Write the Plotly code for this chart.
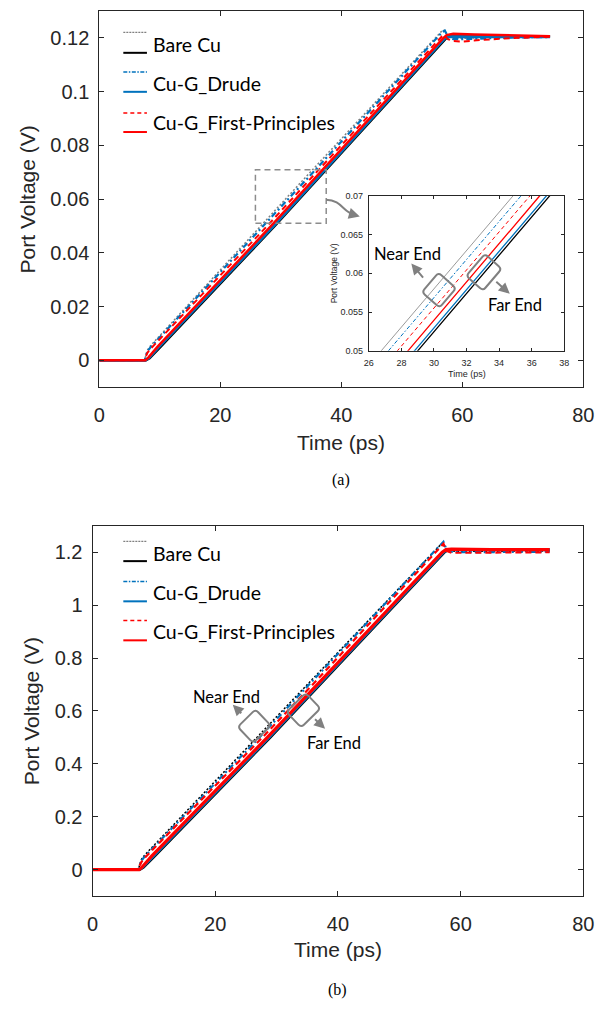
import math
import plotly.graph_objects as go

W, H = 607, 1009

# ---------------- data (a): time (ps) / port voltage (V) ----------------
t_a_bare_near = [0, 7.5, 7.7, 8.0, 8.5, 26.76, 34.86, 56.6, 57.0, 57.5, 58.3, 60.0, 65.0, 74.5]
v_a_bare_near = [0, 0, 0.0020, 0.0040, 0.0055, 0.050, 0.070, 0.1225, 0.1228, 0.1212, 0.1200, 0.1198, 0.1202, 0.1205]

t_a_bare_far = [0, 7.7, 8.3, 9.0, 10.0, 29.0, 37.1, 57.3, 57.9, 74.5]
v_a_bare_far = [0, 0, 0.0008, 0.0025, 0.0047, 0.050, 0.070, 0.1198, 0.1205, 0.1205]

t_a_drude_near = [0, 7.5, 7.7, 8.0, 8.6, 27.2, 35.35, 56.7, 57.1, 57.6, 58.5, 60.0, 63.0, 68.0, 74.5]
v_a_drude_near = [0, 0, 0.0018, 0.0035, 0.0052, 0.050, 0.070, 0.1222, 0.1227, 0.1205, 0.1195, 0.1195, 0.1198, 0.1201, 0.1203]

t_a_drude_far = [0, 7.6, 8.2, 8.9, 9.8, 28.8, 36.9, 57.1, 57.7, 74.5]
v_a_drude_far = [0, 0, 0.0009, 0.0027, 0.0048, 0.050, 0.070, 0.1198, 0.1204, 0.1204]

t_a_fp_near = [0, 7.5, 7.7, 8.0, 8.6, 27.75, 35.9, 56.6, 57.0, 57.6, 58.5, 60.0, 63.0, 68.0, 74.5]
v_a_fp_near = [0, 0, 0.0016, 0.0030, 0.0046, 0.050, 0.070, 0.1205, 0.1210, 0.1195, 0.1188, 0.1186, 0.1192, 0.1199, 0.1204]

t_a_fp_far = [0, 7.6, 8.1, 8.8, 9.6, 28.4, 36.5, 56.8, 57.4, 58.5, 62.0, 68.0, 74.5]
v_a_fp_far = [0, 0, 0.0010, 0.0030, 0.0050, 0.050, 0.070, 0.1198, 0.1210, 0.1215, 0.1212, 0.1208, 0.1206]

# ---------------- data (b) ----------------
t_b_bare_near = [0, 7.5, 7.7, 8.0, 8.5, 26.8, 34.9, 56.6, 57.1, 57.5, 58.3, 60.0, 74.5]
v_b_bare_near = [0, 0, 0.020, 0.040, 0.055, 0.50, 0.70, 1.225, 1.235, 1.215, 1.205, 1.203, 1.205]

t_b_bare_far = [0, 7.7, 8.3, 9.0, 10.0, 29.0, 37.1, 57.4, 58.0, 74.5]
v_b_bare_far = [0, 0, 0.008, 0.025, 0.047, 0.50, 0.70, 1.200, 1.210, 1.210]

t_b_drude_near = [0, 7.5, 7.7, 8.0, 8.6, 27.2, 35.3, 56.7, 57.2, 57.7, 58.5, 60.0, 74.5]
v_b_drude_near = [0, 0, 0.018, 0.035, 0.052, 0.50, 0.70, 1.228, 1.240, 1.210, 1.202, 1.200, 1.202]

t_b_drude_far = [0, 7.6, 8.2, 8.9, 9.8, 28.8, 36.9, 57.2, 57.8, 74.5]
v_b_drude_far = [0, 0, 0.009, 0.027, 0.048, 0.50, 0.70, 1.200, 1.209, 1.209]

t_b_fp_near = [0, 7.5, 7.7, 8.0, 8.6, 27.7, 35.9, 56.7, 57.2, 57.7, 58.5, 60.0, 74.5]
v_b_fp_near = [0, 0, 0.016, 0.030, 0.047, 0.50, 0.70, 1.220, 1.232, 1.205, 1.198, 1.198, 1.200]

t_b_fp_far = [0, 7.6, 8.1, 8.8, 9.6, 28.5, 36.6, 57.0, 57.6, 58.5, 65.0, 74.5]
v_b_fp_far = [0, 0, 0.010, 0.030, 0.050, 0.50, 0.70, 1.200, 1.210, 1.212, 1.210, 1.210]

series_names = ["Bare Cu", "Cu-G_Drude", "Cu-G_First-Principles"]

x_ticks = [0, 20, 40, 60, 80]
ya_ticks = [0, 0.02, 0.04, 0.06, 0.08, 0.1, 0.12]
ya_text = ["0", "0.02", "0.04", "0.06", "0.08", "0.1", "0.12"]
yb_ticks = [0, 0.2, 0.4, 0.6, 0.8, 1.0, 1.2]
yb_text = ["0", "0.2", "0.4", "0.6", "0.8", "1", "1.2"]
xi_ticks = [26, 28, 30, 32, 34, 36, 38]
yi_ticks = [0.05, 0.055, 0.06, 0.065, 0.07]
yi_text = ["0.05", "0.055", "0.06", "0.065", "0.07"]

GRAY = "#808080"
BLUE = "#0072BD"
RED = "#FF0000"
BLACK = "#000000"
AX = "#262626"


def X(x):
    return x / W


def Y(y):
    return 1 - y / H


fig = go.Figure()


def add(t, v, color, dash, width, xa, ya):
    fig.add_trace(go.Scatter(x=t, y=v, mode="lines",
                             line=dict(color=color, dash=dash, width=width),
                             xaxis=xa, yaxis=ya, showlegend=False, hoverinfo="skip"))


# (a) main
add(t_a_bare_near, v_a_bare_near, GRAY, "2px,2px", 1.5, "x", "y")
add(t_a_bare_far, v_a_bare_far, BLACK, "solid", 2.5, "x", "y")
add(t_a_drude_near, v_a_drude_near, BLUE, "6px,3px,2px,3px", 2.2, "x", "y")
add(t_a_drude_far, v_a_drude_far, BLUE, "solid", 2.8, "x", "y")
add(t_a_fp_near, v_a_fp_near, RED, "6px,4px", 2.0, "x", "y")
add(t_a_fp_far, v_a_fp_far, RED, "solid", 2.5, "x", "y")

# (b)
add(t_b_bare_near, v_b_bare_near, BLACK, "2px,2px", 1.5, "x2", "y2")
add(t_b_bare_far, v_b_bare_far, BLACK, "solid", 2.5, "x2", "y2")
add(t_b_drude_near, v_b_drude_near, BLUE, "6px,3px,2px,3px", 2.2, "x2", "y2")
add(t_b_drude_far, v_b_drude_far, BLUE, "solid", 2.8, "x2", "y2")
add(t_b_fp_near, v_b_fp_near, RED, "6px,4px", 2.2, "x2", "y2")
add(t_b_fp_far, v_b_fp_far, RED, "solid", 3.2, "x2", "y2")

# inset of (a)
add(t_a_bare_near, v_a_bare_near, "#9a9a9a", "solid", 1, "x3", "y3")
add(t_a_drude_near, v_a_drude_near, BLUE, "4px,2px,1.5px,2px", 1, "x3", "y3")
add(t_a_fp_near, v_a_fp_near, RED, "4px,3px", 1, "x3", "y3")
add(t_a_fp_far, v_a_fp_far, RED, "solid", 1.3, "x3", "y3")
add(t_a_drude_far, v_a_drude_far, BLUE, "solid", 1.3, "x3", "y3")
add(t_a_bare_far, v_a_bare_far, BLACK, "solid", 1.3, "x3", "y3")

TICKFONT = dict(family="Liberation Sans, Arial", size=20, color=AX)
common = dict(showline=True, linecolor=AX, linewidth=1, mirror="ticks", ticks="inside",
              ticklen=5, tickcolor=AX, showgrid=False, zeroline=False, tickfont=TICKFONT)

inset_common = dict(showline=True, linecolor=AX, linewidth=1, mirror="ticks", ticks="inside",
                    ticklen=3, tickcolor=AX, showgrid=False, zeroline=False,
                    tickfont=dict(family="Liberation Sans, Arial", size=9, color=AX))

fig.update_layout(
    width=W, height=H, margin=dict(l=0, r=0, t=0, b=0),
    paper_bgcolor="white", plot_bgcolor="white", showlegend=False,
    xaxis=dict(domain=[X(96), X(594)], range=[0, 80], anchor="y", tickvals=x_ticks,
               ticklabelstandoff=10, **common),
    yaxis=dict(domain=[Y(386), Y(6)], range=[-0.01, 0.13], anchor="x", tickvals=ya_ticks,
               ticktext=ya_text, ticklabelstandoff=5, **common),
    xaxis2=dict(domain=[X(89), X(594)], range=[0, 80], anchor="y2", tickvals=x_ticks,
                ticklabelstandoff=10, **common),
    yaxis2=dict(domain=[Y(900), Y(526)], range=[-0.1, 1.3], anchor="x2", tickvals=yb_ticks,
                ticktext=yb_text, ticklabelstandoff=5, **common),
    xaxis3=dict(domain=[X(373.3), X(574.3)], range=[26, 38], anchor="y3", tickvals=xi_ticks,
                ticklabelstandoff=3, **inset_common),
    yaxis3=dict(domain=[Y(349.3), Y(192.7)], range=[0.05, 0.07], anchor="x3", tickvals=yi_ticks,
                ticktext=yi_text, ticklabelstandoff=3, **inset_common),
)

shapes = []
annotations = []


def text(s, x, y, size, family="Liberation Sans, Arial", angle=0, xanchor="center", color=AX):
    annotations.append(dict(text=s, x=X(x), y=Y(y), xref="paper", yref="paper", showarrow=False,
                            textangle=angle, xanchor=xanchor, yanchor="middle", borderpad=0,
                            font=dict(family=family, size=size, color=color)))


def pline(x0, y0, x1, y1, color, dash, width):
    shapes.append(dict(type="line", xref="paper", yref="paper", x0=X(x0), y0=Y(y0), x1=X(x1), y1=Y(y1),
                       line=dict(color=color, dash=dash, width=width)))


def arrow(tx, ty, hx, hy):
    annotations.append(dict(text="", x=X(hx), y=Y(hy), xref="paper", yref="paper", showarrow=True,
                            ax=tx - hx, ay=ty - hy, axref="pixel", ayref="pixel",
                            arrowhead=2, arrowsize=1.1, arrowwidth=2, arrowcolor=GRAY))


def rbox(cx, cy, hu, hw, ang_deg, r=4):
    a = math.radians(ang_deg)
    u = (hu * math.cos(a), -hu * math.sin(a))
    w = (hw * math.sin(a), hw * math.cos(a))
    pts = [(cx - u[0] - w[0], cy - u[1] - w[1]), (cx + u[0] - w[0], cy + u[1] - w[1]),
           (cx + u[0] + w[0], cy + u[1] + w[1]), (cx - u[0] + w[0], cy - u[1] + w[1])]

    def towards(p, q, d):
        dx, dy = q[0] - p[0], q[1] - p[1]
        L = math.hypot(dx, dy)
        return (p[0] + dx / L * d, p[1] + dy / L * d)
    path = ""
    n = len(pts)
    for i in range(n):
        p0, p1, p2 = pts[i - 1], pts[i], pts[(i + 1) % n]
        s = towards(p1, p0, r)
        e = towards(p1, p2, r)
        path += ("M" if i == 0 else "L") + f"{X(s[0]):.5f},{Y(s[1]):.5f} "
        path += f"Q{X(p1[0]):.5f},{Y(p1[1]):.5f} {X(e[0]):.5f},{Y(e[1]):.5f} "
    path += "Z"
    shapes.append(dict(type="path", xref="paper", yref="paper", path=path,
                       line=dict(color=GRAY, width=2)))


# legends (manual, two line styles per entry)
LEGFONT = "Lato"
for base in (0, 1):
    if base == 0:
        ys = [(27.7, 48.3, 40), (67.7, 87.7, 79.3), (109, 128.3, 118.3)]
    else:
        ys = [(541.7, 561.7, 554.3), (582.3, 602.3, 593.3), (621.7, 641.7, 632.3)]
    near_styles = [(GRAY, "2px,1px", 1.2), (BLUE, "4px,1.5px,1.5px,1.5px", 1.5), (RED, "4px,3px", 1.5)]
    far_colors = [BLACK, BLUE, RED]
    for k in range(3):
        yn, yf, yt = ys[k]
        c, d, wdt = near_styles[k]
        pline(120.7, yn, 145, yn, c, d, wdt)
        pline(120.7, yf, 145, yf, far_colors[k], "solid", 2)
        text(series_names[k], 150, yt, 19.5, family=LEGFONT, xanchor="left", color="#000000")

# axis titles and captions
text("Port Voltage (V)", 22, 196, 21, angle=-90)
text("Time (ps)", 345, 442, 21)
text("(a)", 345, 480, 16, family="Liberation Serif, Times New Roman", color="#000000")
text("Port Voltage (V)", 27, 713, 21, angle=-90)
text("Time (ps)", 341.5, 954, 21)
text("(b)", 341.5, 995, 16, family="Liberation Serif, Times New Roman", color="#000000")

# inset titles
text("Port Voltage (V)", 337.5, 271, 8.5, angle=-90)
text("Time (ps)", 473.8, 373, 9)

# zoom rectangle in (a) and curved arrow toward the inset
shapes.append(dict(type="rect", xref="x", yref="y", x0=25.8, x1=37.5, y0=0.051, y1=0.0709,
                   line=dict(color="#8c8c8c", width=1.5, dash="6px,4px")))
shapes.append(dict(type="path", xref="paper", yref="paper",
                   path=f"M{X(329.3):.5f},{Y(196.7):.5f} C{X(345):.5f},{Y(197):.5f} "
                        f"{X(347):.5f},{Y(209):.5f} {X(357):.5f},{Y(211.3):.5f}",
                   line=dict(color=GRAY, width=2)))
arrow(356, 211.2, 364, 213.5)

# near/far end markers in inset (a)
rbox(445.5, 288, 13, 12, 49)
rbox(491.7, 270, 14.7, 11.4, 49)
arrow(430, 276.7, 417, 261)
arrow(503.3, 278.3, 518.3, 291.7)
text("Near End", 413, 251, 16.5, family=LEGFONT, color="#000000")
text("Far End", 524, 303, 16.5, family=LEGFONT, color="#000000")

# near/far end markers in (b)
rbox(255.4, 728.4, 12.7, 11.3, 44)
rbox(306, 712.3, 13.8, 10.9, 44)
arrow(243.3, 716.7, 233.3, 706.7)
arrow(316.7, 720, 328.3, 731)
text("Near End", 226.7, 699, 16.5, family=LEGFONT, color="#000000")
text("Far End", 337.5, 745.5, 16.5, family=LEGFONT, color="#000000")

fig.update_layout(shapes=shapes, annotations=annotations)

fig.write_html("out.html", config={"displayModeBar": False},
               post_script="document.body.style.margin='0';document.body.style.overflow='hidden';")
